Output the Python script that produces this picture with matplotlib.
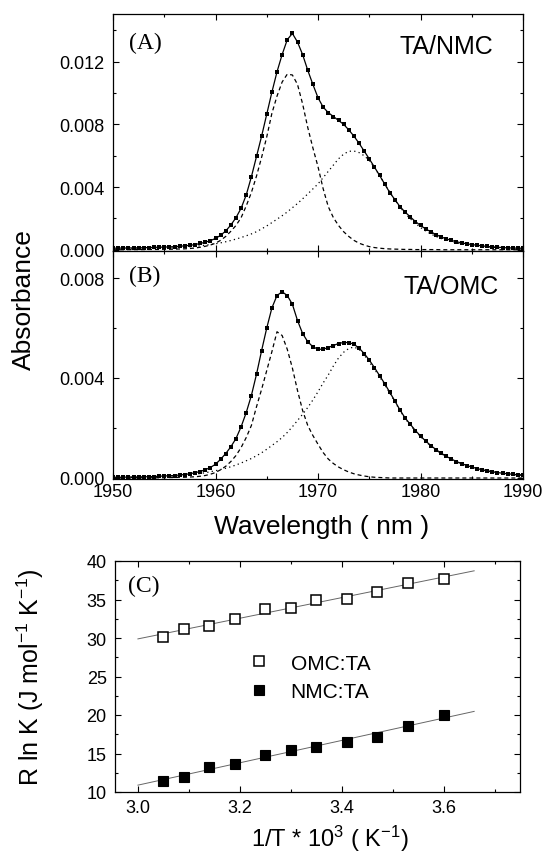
import numpy as np
import matplotlib
matplotlib.use('agg')
import matplotlib.pyplot as plt
from matplotlib.ticker import MultipleLocator, FormatStrFormatter

plt.rcParams['font.family'] = ['Liberation Sans', 'DejaVu Sans']
plt.rcParams['mathtext.fontset'] = 'custom'
plt.rcParams['mathtext.rm'] = 'Liberation Sans'
plt.rcParams['mathtext.it'] = 'Liberation Sans:italic'

# wavelength grid (nm), 0.5 nm steps
wl = np.arange(1950, 1990.01, 0.5)

# absorbance values in units of 1e-3
# (A) TA/NMC
tot_nmc = np.array([
    0.10, 0.10, 0.11, 0.11, 0.12, 0.12, 0.13, 0.14, 0.15, 0.16,
    0.17, 0.18, 0.20, 0.22, 0.25, 0.28, 0.33, 0.40, 0.48, 0.58,
    0.72, 0.92, 1.20, 1.58, 2.05, 2.65, 3.50, 4.65, 5.95, 7.25,
    8.65, 10.05, 11.35, 12.45, 13.40, 13.80, 13.25, 12.45, 11.45, 10.55,
    9.70, 9.10, 8.75, 8.50, 8.25, 8.00, 7.65, 7.25, 6.80, 6.30,
    5.80, 5.28, 4.75, 4.20, 3.65, 3.20, 2.75, 2.40, 2.10, 1.80,
    1.55, 1.33, 1.15, 0.97, 0.82, 0.70, 0.60, 0.51, 0.44, 0.38,
    0.33, 0.29, 0.25, 0.21, 0.18, 0.16, 0.14, 0.12, 0.11, 0.10,
    0.10])
band1_nmc = np.array([
    0.00, 0.00, 0.00, 0.01, 0.01, 0.01, 0.01, 0.02, 0.02, 0.02,
    0.03, 0.03, 0.04, 0.05, 0.06, 0.08, 0.11, 0.16, 0.22, 0.30,
    0.42, 0.60, 0.85, 1.18, 1.55, 2.05, 2.80, 3.65, 4.70, 5.90,
    7.20, 8.70, 9.80, 10.70, 11.20, 11.15, 10.55, 9.30, 7.80, 6.50,
    5.30, 3.90, 2.75, 2.05, 1.55, 1.15, 0.85, 0.60, 0.42, 0.30,
    0.20, 0.14, 0.10, 0.07, 0.05, 0.04, 0.03, 0.02, 0.02, 0.01,
    0.01, 0.01, 0.01, 0.01, 0.00, 0.00, 0.00, 0.00, 0.00, 0.00,
    0.00, 0.00, 0.00, 0.00, 0.00, 0.00, 0.00, 0.00, 0.00, 0.00,
    0.00])
band2_nmc = np.array([
    0.03, 0.03, 0.04, 0.04, 0.05, 0.05, 0.06, 0.07, 0.08, 0.09,
    0.10, 0.11, 0.13, 0.15, 0.17, 0.19, 0.22, 0.25, 0.29, 0.33,
    0.38, 0.44, 0.51, 0.59, 0.68, 0.78, 0.89, 1.01, 1.15, 1.33,
    1.52, 1.73, 1.95, 2.17, 2.41, 2.68, 2.95, 3.25, 3.56, 3.88,
    4.20, 4.60, 5.00, 5.40, 5.80, 6.10, 6.28, 6.30, 6.20, 6.00,
    5.70, 5.25, 4.75, 4.20, 3.68, 3.18, 2.72, 2.32, 1.98, 1.68,
    1.42, 1.20, 1.01, 0.85, 0.72, 0.61, 0.52, 0.44, 0.38, 0.33,
    0.28, 0.24, 0.21, 0.18, 0.16, 0.14, 0.12, 0.11, 0.10, 0.09,
    0.08])

# (B) TA/OMC
tot_omc = np.array([
    0.03, 0.03, 0.03, 0.04, 0.04, 0.04, 0.05, 0.05, 0.06, 0.07,
    0.08, 0.09, 0.10, 0.12, 0.14, 0.17, 0.21, 0.26, 0.33, 0.42,
    0.55, 0.75, 0.98, 1.25, 1.58, 2.05, 2.62, 3.30, 4.15, 5.10,
    6.00, 6.80, 7.30, 7.45, 7.30, 6.95, 6.30, 5.78, 5.45, 5.25,
    5.15, 5.15, 5.22, 5.30, 5.38, 5.42, 5.42, 5.35, 5.20, 4.98,
    4.72, 4.42, 4.10, 3.78, 3.43, 3.08, 2.72, 2.40, 2.15, 1.90,
    1.68, 1.48, 1.30, 1.14, 1.00, 0.87, 0.76, 0.66, 0.58, 0.50,
    0.44, 0.38, 0.33, 0.29, 0.25, 0.22, 0.19, 0.17, 0.15, 0.13,
    0.12])
band1_omc = np.array([
    0.00, 0.00, 0.00, 0.00, 0.00, 0.01, 0.01, 0.01, 0.01, 0.01,
    0.01, 0.02, 0.02, 0.03, 0.03, 0.04, 0.05, 0.07, 0.10, 0.15,
    0.22, 0.33, 0.47, 0.66, 0.90, 1.22, 1.62, 2.10, 2.85, 3.55,
    4.30, 5.05, 5.85, 5.70, 5.15, 4.40, 3.50, 2.70, 2.10, 1.70,
    1.35, 1.02, 0.76, 0.58, 0.44, 0.33, 0.24, 0.17, 0.12, 0.08,
    0.05, 0.03, 0.02, 0.01, 0.00, 0.00, 0.00, 0.00, 0.00, 0.00,
    0.00, 0.00, 0.00, 0.00, 0.00, 0.00, 0.00, 0.00, 0.00, 0.00,
    0.00, 0.00, 0.00, 0.00, 0.00, 0.00, 0.00, 0.00, 0.00, 0.00,
    0.00])
band2_omc = np.array([
    0.01, 0.01, 0.02, 0.02, 0.02, 0.03, 0.03, 0.04, 0.04, 0.05,
    0.06, 0.07, 0.08, 0.09, 0.11, 0.13, 0.15, 0.18, 0.21, 0.25,
    0.29, 0.34, 0.39, 0.45, 0.52, 0.60, 0.69, 0.78, 0.89, 1.01,
    1.15, 1.30, 1.45, 1.62, 1.82, 2.05, 2.30, 2.55, 2.82, 3.12,
    3.45, 3.80, 4.12, 4.48, 4.80, 5.03, 5.18, 5.24, 5.15, 4.92,
    4.64, 4.36, 4.05, 3.74, 3.40, 3.05, 2.70, 2.38, 2.12, 1.88,
    1.66, 1.46, 1.28, 1.12, 0.98, 0.86, 0.75, 0.65, 0.57, 0.49,
    0.43, 0.37, 0.32, 0.28, 0.24, 0.21, 0.18, 0.16, 0.14, 0.12,
    0.11])

# (C) van't Hoff data
inv_T = np.array([3.05, 3.09, 3.14, 3.19, 3.25, 3.30, 3.35, 3.41, 3.47, 3.53, 3.60])
rlnk_omc = np.array([30.1, 31.2, 31.6, 32.5, 33.8, 33.9, 35.0, 35.1, 36.0, 37.1, 37.7])
rlnk_nmc = np.array([11.4, 12.0, 13.3, 13.7, 14.8, 15.5, 15.9, 16.5, 17.2, 18.55, 20.0])

W, H = 543, 853
fig = plt.figure(figsize=(W / 100, H / 100), dpi=100)
axA = fig.add_axes([113 / W, 1 - 252 / H, 410 / W, 237 / H])
axB = fig.add_axes([113 / W, 1 - 480 / H, 410 / W, 228 / H])
axC = fig.add_axes([115 / W, 1 - 793 / H, 405 / W, 231 / H])


def spectrum(ax, tot, b1, b2):
    ax.plot(wl, tot * 1e-3, color='k', lw=0.9)
    ax.plot(wl, tot * 1e-3, ls='none', marker='s', ms=3.3, mfc='k', mec='k', mew=0)
    ax.plot(wl, b1 * 1e-3, color='k', lw=0.9, ls=(0, (3.2, 2.4)))
    ax.plot(wl, b2 * 1e-3, color='k', lw=0.9, ls=(0, (1, 2.6)))
    ax.set_xlim(1950, 1990)
    ax.xaxis.set_major_locator(MultipleLocator(10))
    ax.xaxis.set_minor_locator(MultipleLocator(5))
    ax.yaxis.set_major_locator(MultipleLocator(0.004))
    ax.yaxis.set_minor_locator(MultipleLocator(0.002))
    ax.yaxis.set_major_formatter(FormatStrFormatter('%.3f'))


def style(ax):
    for s in ax.spines.values():
        s.set_linewidth(0.9)
    ax.tick_params(which='both', direction='in', top=True, right=True, width=0.8,
                   labelsize=13)
    ax.tick_params(which='major', length=4.5)
    ax.tick_params(which='minor', length=2.5)
    ax.tick_params(axis='y', pad=6)


spectrum(axA, tot_nmc, band1_nmc, band2_nmc)
axA.set_ylim(-0.00008, 0.01504)
style(axA)
axA.tick_params(labelbottom=False)
axA.text(0.038, 0.882, '(A)', transform=axA.transAxes, family='Liberation Serif',
         fontsize=17, ha='left', va='center')
axA.text(0.928, 0.864, 'TA/NMC', transform=axA.transAxes, fontsize=18,
         ha='right', va='center')

spectrum(axB, tot_omc, band1_omc, band2_omc)
axB.set_ylim(-0.00004, 0.00908)
style(axB)
axB.tick_params(axis='x', pad=3)
axB.text(0.038, 0.892, '(B)', transform=axB.transAxes, family='Liberation Serif',
         fontsize=17, ha='left', va='center')
axB.text(0.94, 0.845, 'TA/OMC', transform=axB.transAxes, fontsize=18,
         ha='right', va='center')

fig.text(24 / W, 1 - 300 / H, 'Absorbance', rotation=90, fontsize=19,
         ha='center', va='center')
fig.text(322 / W, 1 - 527 / H, 'Wavelength ( nm )', fontsize=19,
         ha='center', va='center')

# panel C with linear fits
xfit = np.array([3.0, 3.66])
for y in (rlnk_omc, rlnk_nmc):
    k = np.polyfit(inv_T, y, 1)
    axC.plot(xfit, np.polyval(k, xfit), color='0.4', lw=0.7)
axC.plot(inv_T, rlnk_omc, ls='none', marker='s', ms=7.4, mfc='white', mec='k',
         mew=1.1, label='OMC:TA')
axC.plot(inv_T, rlnk_nmc, ls='none', marker='s', ms=7.8, mfc='k', mec='k',
         mew=0.8, label='NMC:TA')
axC.set_xlim(2.955, 3.75)
axC.set_ylim(10, 40)
axC.xaxis.set_major_locator(MultipleLocator(0.2))
axC.xaxis.set_minor_locator(MultipleLocator(0.1))
axC.yaxis.set_major_locator(MultipleLocator(5))
axC.yaxis.set_minor_locator(MultipleLocator(2.5))
axC.xaxis.set_major_formatter(FormatStrFormatter('%.1f'))
style(axC)
axC.tick_params(axis='x', pad=5)
axC.text(0.033, 0.893, '(C)', transform=axC.transAxes, family='Liberation Serif',
         fontsize=17, ha='left', va='center')
axC.legend(loc='center left', bbox_to_anchor=(0.331, 0.496), frameon=False,
           fontsize=15, handlelength=1.0, handletextpad=1.0, labelspacing=0.45,
           borderpad=0, borderaxespad=0)
axC.set_ylabel('R ln K (J mol$^{-1}$ K$^{-1}$)', fontsize=18)
axC.yaxis.set_label_coords(-(115 - 46) / 405, 0.5)
axC.set_xlabel('1/T * 10$^3$ ( K$^{-1}$)', fontsize=17)
axC.xaxis.set_label_coords((330 - 115) / 405, -(839 - 793) / 231)
axC.xaxis.label.set_va('center')

fig.savefig('out.png', dpi=100)
